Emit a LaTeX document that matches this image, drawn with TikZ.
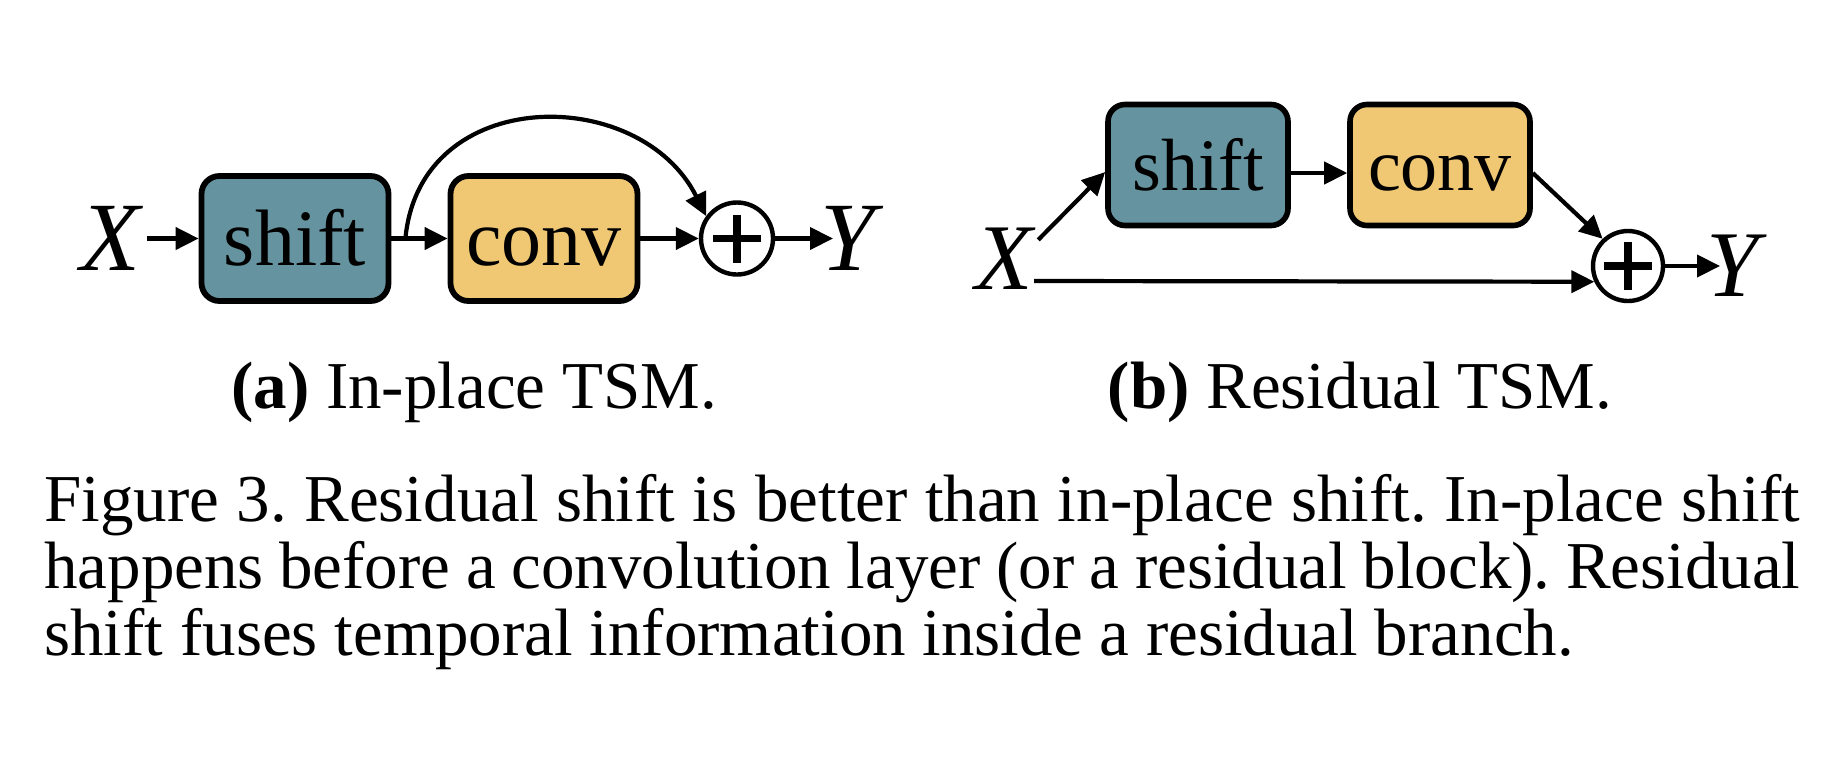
\documentclass[tikz,border=0pt]{standalone}
\usepackage{fontspec}
\setmainfont{Liberation Serif}
\usetikzlibrary{arrows.meta}
\definecolor{shiftc}{RGB}{101,147,159}
\definecolor{convc}{RGB}{240,200,116}
\frenchspacing
\begin{document}
\begin{tikzpicture}[x=0.5pt,y=-0.5pt,
  boxa/.style={draw=black, line width=2.9pt, rounded corners=9pt, minimum width=93.5pt, minimum height=62.5pt, inner sep=0pt, font=\fontsize{40pt}{48pt}\selectfont, text height=27pt, text depth=0pt},
  boxb/.style={draw=black, line width=2.8pt, rounded corners=8.5pt, minimum width=90pt, minimum height=60.5pt, inner sep=0pt, font=\fontsize{37pt}{44pt}\selectfont, text height=25pt, text depth=0pt},
  addnode/.style={circle, draw=black, line width=2.2pt, inner sep=0pt, fill=white,
    path picture={\draw[line width=3.6pt] ([xshift=-12pt]path picture bounding box.center) -- ([xshift=12pt]path picture bounding box.center) ([yshift=-12pt]path picture bounding box.center) -- ([yshift=12pt]path picture bounding box.center);}},
  arr/.style={line width=2.1pt, -{Triangle[length=11.5pt,width=11pt]}},
  varA/.style={inner sep=0pt, anchor=west, font=\fontsize{49pt}{58pt}\selectfont\itshape},
  varB/.style={inner sep=0pt, anchor=west, font=\fontsize{47pt}{56pt}\selectfont\itshape},
  captxt/.style={inner sep=0pt, anchor=base west, font=\fontsize{33.5pt}{35pt}\selectfont},
  subcap/.style={inner sep=0pt, anchor=base, font=\fontsize{33.5pt}{40pt}\selectfont}
]
\fill[white] (0,0) rectangle (1846,767);
\useasboundingbox (0,0) rectangle (1846,767);

% (a) In-place
\node[varA] (Xa) at (80,238.5) {X};
\node[boxa, fill=shiftc] (sa) at (295,238.5) {shift};
\node[boxa, fill=convc] (ca) at (544,238.5) {conv};
\node[addnode, minimum size=36pt] (pa) at (737,238.5) {};
\node[varA] (Ya) at (820,238.5) {Y};
\draw[arr] ([xshift=3pt]Xa.east) -- (sa.west);
\draw[arr] (sa.east) -- (ca.west);
\draw[arr] (ca.east) -- (pa.west);
\draw[arr] (pa.east) -- ([xshift=6.5pt]Ya.west);
\draw[arr] ([xshift=7pt]sa.east) .. controls (420,84) and (640,84) .. (pa.144);

% (b) Residual
\node[varB] (Xb) at (975,259) {X};
\node[boxb, fill=shiftc] (sb) at (1198,165) {shift};
\node[boxb, fill=convc] (cb) at (1440,165) {conv};
\node[addnode, minimum size=35pt] (pb) at (1628,266) {};
\node[varB] (Yb) at (1706,266) {Y};
\draw[arr] ([xshift=2.5pt,yshift=-6pt]Xb.north east) -- ([yshift=-3.5pt]sb.west);
\draw[arr] ([yshift=-4pt]sb.east) -- ([yshift=-4pt]cb.west);
\draw[arr] ([yshift=-4pt]cb.east) -- (pb.133);
\draw[arr] ([xshift=0.5pt,yshift=-11pt]Xb.east) -- (pb.205);
\draw[arr] (pb.east) -- ([xshift=7pt]Yb.west);

% captions
\node[subcap] (capa) at (474,408) {\textbf{(a)} In-place TSM.};
\node[subcap] (capb) at (1360,408) {\textbf{(b)} Residual TSM.};
\node[captxt] (cap1) at (44,521) {\makebox[878pt][s]{Figure 3. Residual shift is better than in-place shift. In-place shift}};
\node[captxt] (cap2) at (44,588) {\makebox[878pt][s]{happens before a convolution layer (or a residual block). Residual}};
\node[captxt] (cap3) at (44,655) {shift fuses temporal information inside a residual branch.};
\end{tikzpicture}
\end{document}
